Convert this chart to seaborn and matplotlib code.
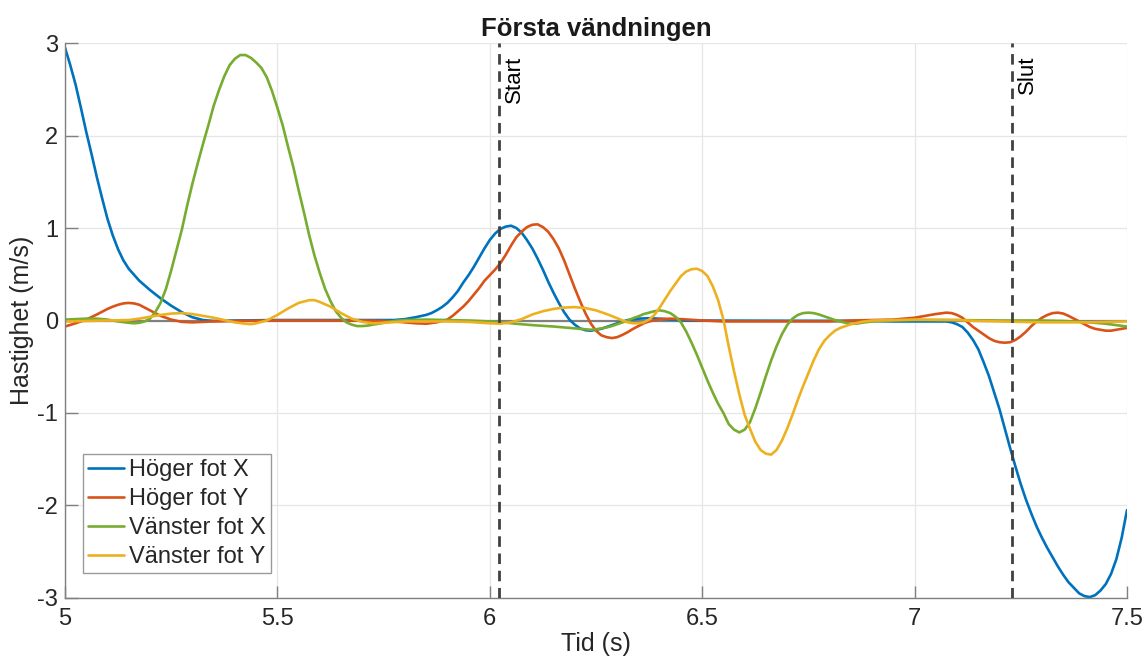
import matplotlib
matplotlib.use("Agg")
import matplotlib.pyplot as plt
import seaborn as sns
import pandas as pd

# ---- data --------------------------------------------------------------
# Höger fot X
tid_hx = [5.000, 5.0125, 5.025, 5.0375, 5.050, 5.0625, 5.075, 5.0875, 5.100, 5.1125,
          5.125, 5.1375, 5.150, 5.175, 5.200, 5.225, 5.250, 5.275, 5.300, 5.325,
          5.350, 5.400, 5.500, 5.600, 5.700, 5.775, 5.800, 5.825, 5.850, 5.8625,
          5.875, 5.8875, 5.900, 5.9125, 5.925, 5.9375, 5.950, 5.9625, 5.975, 5.9875,
          6.000, 6.0125, 6.025, 6.0375, 6.050, 6.0625, 6.075, 6.0875, 6.100, 6.1125,
          6.125, 6.1375, 6.150, 6.1625, 6.175, 6.1875, 6.200, 6.2125, 6.225, 6.2375,
          6.250, 6.2625, 6.275, 6.2875, 6.300, 6.325, 6.350, 6.375, 6.400, 6.425,
          6.450, 6.900, 6.950, 7.000, 7.050, 7.075, 7.0875, 7.100, 7.1125, 7.125,
          7.1375, 7.150, 7.1625, 7.175, 7.1875, 7.200, 7.2125, 7.225, 7.2375, 7.250,
          7.2625, 7.275, 7.2875, 7.300, 7.3125, 7.325, 7.3375, 7.350, 7.3625, 7.375,
          7.3875, 7.400, 7.4125, 7.425, 7.4375, 7.450, 7.4625, 7.475, 7.4875, 7.500]
hoger_x = [2.95, 2.76, 2.55, 2.30, 2.04, 1.80, 1.55, 1.32, 1.10, 0.92,
           0.77, 0.65, 0.56, 0.43, 0.33, 0.24, 0.16, 0.09, 0.035, 0.005,
           -0.005, 0.0, 0.005, 0.005, 0.005, 0.005, 0.015, 0.035, 0.06, 0.08,
           0.11, 0.145, 0.19, 0.25, 0.32, 0.41, 0.49, 0.58, 0.68, 0.78,
           0.87, 0.94, 0.99, 1.015, 1.025, 1.00, 0.95, 0.87, 0.78, 0.67,
           0.55, 0.42, 0.30, 0.19, 0.09, 0.01, -0.045, -0.085, -0.105, -0.11,
           -0.10, -0.09, -0.07, -0.05, -0.03, 0.005, 0.02, 0.025, 0.02, 0.01,
           0.0, -0.005, -0.01, -0.01, -0.01, -0.01, -0.02, -0.04, -0.07, -0.13,
           -0.21, -0.31, -0.45, -0.60, -0.78, -0.96, -1.17, -1.38, -1.58, -1.77,
           -1.94, -2.09, -2.23, -2.35, -2.46, -2.56, -2.66, -2.75, -2.83, -2.89,
           -2.95, -2.98, -2.99, -2.97, -2.92, -2.85, -2.74, -2.58, -2.35, -2.05]

# Höger fot Y
tid_hy = [5.000, 5.025, 5.050, 5.075, 5.100, 5.1125, 5.125, 5.1375, 5.150, 5.1625,
          5.175, 5.1875, 5.200, 5.2125, 5.225, 5.250, 5.275, 5.300, 5.325, 5.350,
          5.400, 5.500, 5.600, 5.700, 5.750, 5.775, 5.800, 5.825, 5.850, 5.875,
          5.900, 5.9125, 5.925, 5.9375, 5.950, 5.9625, 5.975, 5.9875, 6.000, 6.0125,
          6.025, 6.0375, 6.050, 6.0625, 6.075, 6.0875, 6.100, 6.1125, 6.125, 6.1375,
          6.150, 6.1625, 6.175, 6.1875, 6.200, 6.2125, 6.225, 6.2375, 6.250, 6.2625,
          6.275, 6.2875, 6.300, 6.3125, 6.325, 6.3375, 6.350, 6.3625, 6.375, 6.400,
          6.425, 6.450, 6.500, 6.550, 6.600, 6.700, 6.800, 6.850, 6.900, 6.950,
          7.000, 7.025, 7.050, 7.075, 7.0875, 7.100, 7.1125, 7.125, 7.1375, 7.150,
          7.1625, 7.175, 7.1875, 7.200, 7.2125, 7.225, 7.2375, 7.250, 7.2625, 7.275,
          7.2875, 7.300, 7.3125, 7.325, 7.3375, 7.350, 7.3625, 7.375, 7.3875, 7.400,
          7.4125, 7.425, 7.4375, 7.450, 7.4625, 7.475, 7.4875, 7.500]
hoger_y = [-0.065, -0.03, 0.01, 0.065, 0.125, 0.15, 0.17, 0.185, 0.19, 0.185,
           0.17, 0.14, 0.11, 0.08, 0.05, 0.01, -0.015, -0.02, -0.015, -0.01,
           -0.005, 0.0, 0.0, 0.0, -0.005, -0.01, -0.02, -0.03, -0.035, -0.02,
           0.01, 0.05, 0.10, 0.15, 0.21, 0.28, 0.35, 0.43, 0.49, 0.55,
           0.62, 0.71, 0.81, 0.90, 0.96, 1.01, 1.035, 1.04, 1.01, 0.96,
           0.88, 0.78, 0.65, 0.50, 0.35, 0.21, 0.08, -0.03, -0.11, -0.16,
           -0.18, -0.19, -0.18, -0.155, -0.125, -0.09, -0.06, -0.03, -0.01, 0.015,
           0.02, 0.015, 0.0, -0.01, -0.01, -0.01, -0.01, 0.0, 0.005, 0.01,
           0.03, 0.05, 0.07, 0.085, 0.08, 0.06, 0.03, -0.02, -0.07, -0.11,
           -0.15, -0.19, -0.22, -0.235, -0.24, -0.235, -0.21, -0.17, -0.12, -0.06,
           -0.01, 0.03, 0.06, 0.08, 0.085, 0.075, 0.05, 0.02, -0.01, -0.04,
           -0.07, -0.09, -0.10, -0.11, -0.11, -0.10, -0.09, -0.08]

# Vänster fot X
tid_vx = [5.000, 5.050, 5.075, 5.100, 5.125, 5.150, 5.1625, 5.175, 5.1875, 5.200,
          5.2125, 5.225, 5.2375, 5.250, 5.2625, 5.275, 5.2875, 5.300, 5.3125, 5.325,
          5.3375, 5.350, 5.3625, 5.375, 5.3875, 5.400, 5.4125, 5.425, 5.4375, 5.450,
          5.4625, 5.475, 5.4875, 5.500, 5.5125, 5.525, 5.5375, 5.550, 5.5625, 5.575,
          5.5875, 5.600, 5.6125, 5.625, 5.6375, 5.650, 5.6625, 5.675, 5.6875, 5.700,
          5.7125, 5.725, 5.750, 5.775, 5.800, 5.850, 5.900, 5.950, 6.000, 6.050,
          6.100, 6.150, 6.200, 6.225, 6.2375, 6.250, 6.2625, 6.275, 6.2875, 6.300,
          6.3125, 6.325, 6.3375, 6.350, 6.3625, 6.375, 6.3875, 6.400, 6.4125, 6.425,
          6.4375, 6.450, 6.4625, 6.475, 6.4875, 6.500, 6.5125, 6.525, 6.5375, 6.550,
          6.5625, 6.575, 6.5875, 6.600, 6.6125, 6.625, 6.6375, 6.650, 6.6625, 6.675,
          6.6875, 6.700, 6.7125, 6.725, 6.7375, 6.750, 6.7625, 6.775, 6.7875, 6.800,
          6.8125, 6.825, 6.8375, 6.850, 6.8625, 6.875, 6.900, 6.950, 7.000, 7.100,
          7.200, 7.300, 7.350, 7.400, 7.450, 7.475, 7.500]
vanster_x = [0.01, 0.02, 0.02, 0.01, -0.01, -0.025, -0.03, -0.025, -0.01, 0.02,
             0.09, 0.19, 0.34, 0.54, 0.76, 0.98, 1.24, 1.48, 1.70, 1.91,
             2.11, 2.32, 2.49, 2.64, 2.76, 2.83, 2.87, 2.87, 2.84, 2.79,
             2.73, 2.63, 2.48, 2.30, 2.11, 1.88, 1.66, 1.41, 1.17, 0.92,
             0.70, 0.51, 0.34, 0.21, 0.10, 0.03, -0.02, -0.045, -0.06, -0.06,
             -0.055, -0.045, -0.025, -0.005, 0.005, 0.01, 0.005, 0.0, -0.01, -0.03,
             -0.05, -0.065, -0.085, -0.095, -0.10, -0.095, -0.085, -0.075, -0.06, -0.04,
             -0.02, 0.0, 0.025, 0.045, 0.07, 0.085, 0.10, 0.11, 0.10, 0.08,
             0.04, -0.02, -0.12, -0.24, -0.37, -0.51, -0.65, -0.78, -0.90, -1.00,
             -1.12, -1.18, -1.21, -1.18, -1.10, -0.95, -0.78, -0.60, -0.43, -0.28,
             -0.15, -0.05, 0.02, 0.06, 0.08, 0.085, 0.08, 0.065, 0.045, 0.025,
             0.005, -0.01, -0.025, -0.035, -0.035, -0.025, -0.01, 0.0, 0.005, 0.005,
             0.0, 0.0, -0.005, -0.015, -0.035, -0.05, -0.065]

# Vänster fot Y
tid_vy = [5.000, 5.050, 5.100, 5.150, 5.175, 5.200, 5.225, 5.250, 5.275, 5.300,
          5.325, 5.350, 5.375, 5.400, 5.425, 5.4375, 5.450, 5.475, 5.500, 5.525,
          5.550, 5.575, 5.5875, 5.600, 5.625, 5.650, 5.675, 5.700, 5.725, 5.750,
          5.800, 5.900, 5.950, 6.000, 6.025, 6.050, 6.075, 6.100, 6.125, 6.150,
          6.175, 6.200, 6.225, 6.250, 6.275, 6.300, 6.3125, 6.325, 6.3375, 6.350,
          6.3625, 6.375, 6.3875, 6.400, 6.4125, 6.425, 6.4375, 6.450, 6.4625, 6.475,
          6.4875, 6.500, 6.5125, 6.525, 6.5375, 6.550, 6.5625, 6.575, 6.5875, 6.600,
          6.6125, 6.625, 6.6375, 6.650, 6.6625, 6.675, 6.6875, 6.700, 6.7125, 6.725,
          6.7375, 6.750, 6.7625, 6.775, 6.7875, 6.800, 6.8125, 6.825, 6.850, 6.875,
          6.900, 7.000, 7.100, 7.150, 7.200, 7.300, 7.400, 7.450, 7.500]
vanster_y = [-0.01, -0.005, 0.0, 0.005, 0.02, 0.04, 0.06, 0.075, 0.08, 0.07,
             0.05, 0.03, 0.005, -0.02, -0.035, -0.04, -0.03, 0.0, 0.06, 0.13,
             0.19, 0.22, 0.22, 0.20, 0.15, 0.08, 0.02, -0.015, -0.03, -0.025,
             -0.01, -0.01, -0.015, -0.03, -0.035, -0.02, 0.015, 0.065, 0.10, 0.125,
             0.14, 0.145, 0.135, 0.11, 0.07, 0.025, 0.0, -0.02, -0.03, -0.03,
             -0.02, 0.01, 0.06, 0.14, 0.23, 0.32, 0.40, 0.48, 0.53, 0.555,
             0.56, 0.535, 0.48, 0.37, 0.22, 0.01, -0.28, -0.55, -0.80, -1.02,
             -1.17, -1.31, -1.40, -1.44, -1.45, -1.40, -1.30, -1.17, -1.02, -0.86,
             -0.71, -0.57, -0.43, -0.31, -0.22, -0.16, -0.11, -0.08, -0.04, -0.015,
             0.0, 0.01, 0.005, -0.005, -0.01, -0.02, -0.02, -0.015, -0.01]

serier = ["Höger fot X", "Höger fot Y", "Vänster fot X", "Vänster fot Y"]
farger = ["#0072BD", "#D95319", "#77AC30", "#EDB120"]
markering_tid = [6.022, 7.229]
markering_text = ["Start", "Slut"]
x_ticks = [5, 5.5, 6, 6.5, 7, 7.5]
x_ticklabels = ["5", "5.5", "6", "6.5", "7", "7.5"]
y_ticks = [-3, -2, -1, 0, 1, 2, 3]
y_ticklabels = ["-3", "-2", "-1", "0", "1", "2", "3"]

# ---- long-form frame ---------------------------------------------------
df = pd.concat([
    pd.DataFrame({"Tid": t, "v": v, "Serie": name})
    for name, t, v in zip(serier,
                          [tid_hx, tid_hy, tid_vx, tid_vy],
                          [hoger_x, hoger_y, vanster_x, vanster_y])
], ignore_index=True)

sns.set_theme(style="whitegrid")
plt.rcParams["font.family"] = ["Liberation Sans", "DejaVu Sans"]

fig = plt.figure(figsize=(11.46, 6.62), dpi=100)
ax = fig.add_axes([0.0567, 0.0967, 0.9267, 0.8383])

ax.axhline(0, color="#808080", lw=1.6, zorder=1)

sns.lineplot(data=df, x="Tid", y="v", hue="Serie", hue_order=serier,
             palette=farger, lw=1.9, ax=ax, legend=False, zorder=2,
             estimator=None, sort=True)

for t, txt in zip(markering_tid, markering_text):
    ax.axvline(t, color="#404040", lw=2.0, ls=(0, (3.8, 2.4)), zorder=3)
    ax.text(t + 0.012, 2.86, txt, rotation=90, va="top", ha="left",
            fontsize=16, color="black")

ax.set_xlim(5, 7.5)
ax.set_ylim(-3, 3)
ax.set_xticks(x_ticks)
ax.set_xticklabels(x_ticklabels)
ax.set_yticks(y_ticks)
ax.set_yticklabels(y_ticklabels)

ax.set_facecolor("white")
ax.grid(True, color="#e6e6e6", lw=0.9)
for s in ["top", "right"]:
    ax.spines[s].set_visible(False)
for s in ["left", "bottom"]:
    ax.spines[s].set_visible(True)
    ax.spines[s].set_color("#808080")
    ax.spines[s].set_linewidth(1.0)

ax.tick_params(axis="both", direction="in", length=9, width=1.0,
               color="#808080", labelsize=17, labelcolor="#262626", pad=5)
ax.tick_params(axis="x", pad=7)
ax.tick_params(left=True, bottom=True)

ax.set_xlabel("Tid (s)", fontsize=18, color="#262626", labelpad=2)
ax.set_ylabel("Hastighet (m/s)", fontsize=18, color="#262626", labelpad=2)
ax.set_title("Första vändningen", fontsize=18.5, fontweight="bold",
             color="#1a1a1a", pad=5)

handles = [plt.Line2D([], [], color=c, lw=1.9) for c in farger]
leg = ax.legend(handles, serier, loc="lower left", bbox_to_anchor=(0.017, 0.045),
                fontsize=17, frameon=True, fancybox=False, framealpha=1,
                edgecolor="#9a9a9a", handlelength=1.55, handletextpad=0.2,
                labelspacing=0.3, borderpad=0.2, borderaxespad=0)
leg.get_frame().set_linewidth(1.0)
for t in leg.get_texts():
    t.set_color("#262626")

fig.savefig("out.png", dpi=100)
